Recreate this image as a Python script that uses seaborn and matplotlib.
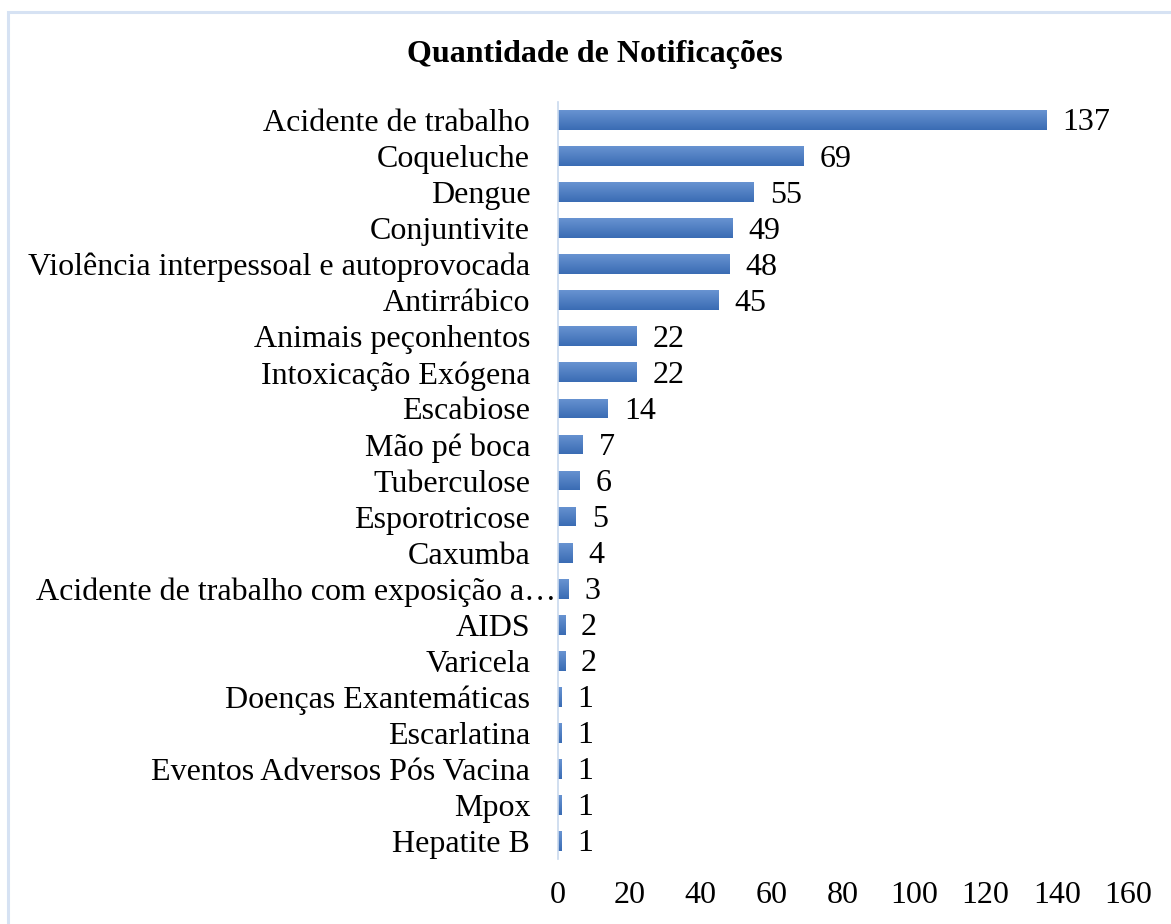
import numpy as np
import pandas as pd
import matplotlib
matplotlib.use("Agg")
import matplotlib.pyplot as plt
import seaborn as sns
from matplotlib.colors import LinearSegmentedColormap
from matplotlib.patches import Rectangle

categorias = [
    "Acidente de trabalho",
    "Coqueluche",
    "Dengue",
    "Conjuntivite",
    "Violência interpessoal e autoprovocada",
    "Antirrábico",
    "Animais peçonhentos",
    "Intoxicação Exógena",
    "Escabiose",
    "Mão pé boca",
    "Tuberculose",
    "Esporotricose",
    "Caxumba",
    "Acidente de trabalho com exposição a…",
    "AIDS",
    "Varicela",
    "Doenças Exantemáticas",
    "Escarlatina",
    "Eventos Adversos Pós Vacina",
    "Mpox",
    "Hepatite B",
]
notificacoes = [137, 69, 55, 49, 48, 45, 22, 22, 14, 7, 6, 5, 4, 3, 2, 2, 1, 1, 1, 1, 1]
x_ticks = [0, 20, 40, 60, 80, 100, 120, 140, 160]

df = pd.DataFrame({"Doença": categorias, "Quantidade": notificacoes})

sns.set_style("white")
plt.rcParams["font.family"] = ["Liberation Serif", "DejaVu Serif"]
plt.rcParams["text.color"] = "black"
plt.rcParams["xtick.color"] = "black"
plt.rcParams["ytick.color"] = "black"

fig = plt.figure(figsize=(11.71, 9.24), dpi=100)
ax = fig.add_axes([0.4765, 0.0703, 0.4868, 0.8193])

sns.barplot(data=df, y="Doença", x="Quantidade", orient="h", color="#4a7cc0",
            width=0.55, ax=ax, saturation=1)

# gradient fill on each bar
cmap = LinearSegmentedColormap.from_list("grad", ["#6893d1", "#3a6cb4"])
grad = np.linspace(0, 1, 64).reshape(-1, 1)
for p in ax.patches:
    x0, y0 = p.get_x(), p.get_y()
    w, h = p.get_width(), p.get_height()
    im = ax.imshow(grad, cmap=cmap, aspect="auto", extent=(x0, x0 + w, y0 + h, y0),
                   origin="upper", zorder=p.get_zorder() + 0.1)
    im.set_clip_path(p)

for i, v in enumerate(notificacoes):
    ax.annotate(str(v), xy=(v, i), xytext=(11.5, -7.5), textcoords="offset points",
                ha="left", va="baseline", fontsize=23, color="black")

ax.set_xlim(0, 160)
ax.set_ylim(len(categorias) - 0.5, -0.5)
ax.set_xticks(x_ticks)
ax.set_xticklabels([str(t) for t in x_ticks], fontsize=23)
ax.tick_params(axis="y", labelsize=23, length=0, pad=20)
ax.tick_params(axis="x", length=0, pad=16)
# the truncated long label overflows up to the axis line
ax.yaxis.get_major_ticks()[categorias.index("Acidente de trabalho com exposição a…")].set_pad(1.5)
ax.set_xlabel("")
ax.set_ylabel("")
for s in ["top", "right", "bottom"]:
    ax.spines[s].set_visible(False)
ax.spines["left"].set_color("#c9d9ee")
ax.spines["left"].set_linewidth(1.2)
ax.grid(False)

fig.text(0.508, 0.941, "Quantidade de Notificações", ha="center", va="center",
         fontsize=23, fontweight="bold", color="black")

fig.patches.append(Rectangle((0.007, -0.05), 1.1, 1.037, transform=fig.transFigure,
                             fill=False, edgecolor="#d6e2f3", linewidth=2.2))

fig.savefig("out.png", dpi=100)
